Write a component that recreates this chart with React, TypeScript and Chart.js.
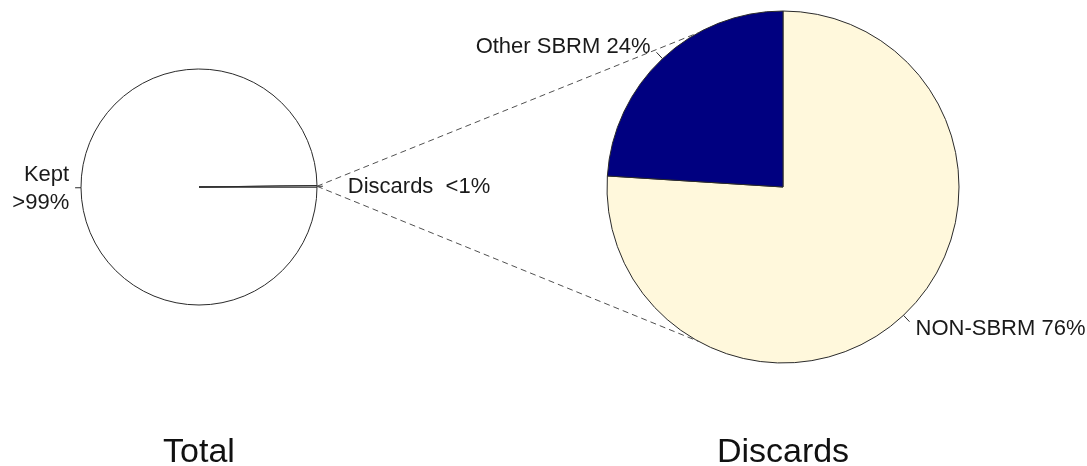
import React, { useEffect, useRef } from 'react';
import { Chart, registerables } from 'chart.js';

Chart.register(...registerables);

// ---- data ----
const totalCategories = ['Kept', 'Discards'];
const totalValues = [99.8, 0.2];
const totalLabelText = ['Kept\n>99%', 'Discards  <1%'];
const totalColors = ['#FFFFFF', '#FFFFFF'];

const discardCategories = ['NON-SBRM', 'Other SBRM'];
const discardValues = [76, 24];
const discardLabelText = ['NON-SBRM 76%', 'Other SBRM 24%'];
const discardColors = ['#FFF8DC', '#000080'];

const chartTitles = ['Total', 'Discards'];

// ---- layout / style ----
const W = 1087;
const H = 466;
const FONT = '"Liberation Sans", Arial, Helvetica, sans-serif';
const LABEL_FONT = `22px ${FONT}`;
const TITLE_FONT = `34px ${FONT}`;
const TEXT_COLOR = '#1a1a1a';
const LINE_COLOR = '#2a2a2a';

const pieLabelPlugin = {
  id: 'pieLabels',
  afterDatasetsDraw(chart: any, _args: any, opts: any) {
    const ctx = chart.ctx;
    const arcs = chart.getDatasetMeta(0).data;
    ctx.save();
    ctx.font = LABEL_FONT;
    ctx.fillStyle = TEXT_COLOR;
    ctx.strokeStyle = LINE_COLOR;
    ctx.lineWidth = 1;
    arcs.forEach((arc: any, i: number) => {
      const { x, y, startAngle, endAngle, outerRadius } = arc.getProps(
        ['x', 'y', 'startAngle', 'endAngle', 'outerRadius'],
        true
      );
      const mid = (startAngle + endAngle) / 2;
      const c = Math.cos(mid);
      const s = Math.sin(mid);
      ctx.beginPath();
      ctx.moveTo(x + outerRadius * c, y + outerRadius * s);
      ctx.lineTo(x + 1.05 * outerRadius * c, y + 1.05 * outerRadius * s);
      ctx.stroke();
      const dx = opts.dx ? opts.dx[i] || 0 : 0;
      const lx = x + 1.1 * outerRadius * c + dx;
      const ly = y + 1.1 * outerRadius * s;
      const lines = String(opts.text[i]).split('\n');
      ctx.textAlign = c < 0 ? 'right' : 'left';
      ctx.textBaseline = 'middle';
      const lh = 28;
      lines.forEach((t: string, k: number) => {
        ctx.fillText(t, lx, ly + 1 + (k - (lines.length - 1) / 2) * lh);
      });
    });
    const cx = arcs[0].x;
    ctx.font = TITLE_FONT;
    ctx.textAlign = 'center';
    ctx.textBaseline = 'alphabetic';
    ctx.fillStyle = '#111111';
    ctx.fillText(opts.title, cx, 462);
    ctx.restore();
  },
};

export default function App() {
  const leftRef = useRef<HTMLCanvasElement>(null);
  const rightRef = useRef<HTMLCanvasElement>(null);

  useEffect(() => {
    if (!leftRef.current || !rightRef.current) return;

    const leftChart = new Chart(leftRef.current, {
      type: 'pie',
      data: {
        labels: totalCategories,
        datasets: [
          {
            data: totalValues,
            backgroundColor: totalColors,
            borderColor: LINE_COLOR,
            borderWidth: 1,
            hoverOffset: 0,
          },
        ],
      },
      options: {
        responsive: false,
        animation: false,
        events: [],
        rotation: 90,
        radius: 118,
        layout: { padding: { left: 0, right: 689, top: 0, bottom: 92 } },
        plugins: {
          legend: { display: false },
          tooltip: { enabled: false },
          pieLabels: { text: totalLabelText, dx: [0, 19], title: chartTitles[0] },
        } as any,
      },
      plugins: [pieLabelPlugin],
    });

    const connectorPlugin = {
      id: 'connectors',
      afterDraw(chart: any) {
        const src = leftChart.getDatasetMeta(0).data[1] as any;
        const sp = src.getProps(['x', 'y', 'startAngle', 'endAngle', 'outerRadius'], true);
        const mid = (sp.startAngle + sp.endAngle) / 2;
        const x0 = sp.x + sp.outerRadius * Math.cos(mid);
        const y0 = sp.y + sp.outerRadius * Math.sin(mid);
        const dst = chart.getDatasetMeta(0).data[0] as any;
        const dp = dst.getProps(['x', 'y', 'outerRadius'], true);
        const angles = [(-118.7 * Math.PI) / 180, (118.7 * Math.PI) / 180];
        const ctx = chart.ctx;
        ctx.save();
        ctx.strokeStyle = '#505050';
        ctx.lineWidth = 1;
        ctx.setLineDash([6, 4]);
        angles.forEach((a) => {
          ctx.beginPath();
          ctx.moveTo(x0, y0);
          ctx.lineTo(dp.x + dp.outerRadius * Math.cos(a), dp.y + dp.outerRadius * Math.sin(a));
          ctx.stroke();
        });
        ctx.restore();
      },
    };

    const rightChart = new Chart(rightRef.current, {
      type: 'pie',
      data: {
        labels: discardCategories,
        datasets: [
          {
            data: discardValues,
            backgroundColor: discardColors,
            borderColor: LINE_COLOR,
            borderWidth: 1,
            hoverOffset: 0,
          },
        ],
      },
      options: {
        responsive: false,
        animation: false,
        events: [],
        rotation: 0,
        radius: 176,
        layout: { padding: { left: 479, right: 0, top: 0, bottom: 92 } },
        plugins: {
          legend: { display: false },
          tooltip: { enabled: false },
          pieLabels: { text: discardLabelText, title: chartTitles[1] },
        } as any,
      },
      plugins: [pieLabelPlugin, connectorPlugin],
    });

    return () => {
      rightChart.destroy();
      leftChart.destroy();
    };
  }, []);

  return (
    <div
      style={{
        position: 'fixed',
        left: 0,
        top: 0,
        width: W,
        height: H,
        background: '#ffffff',
        overflow: 'hidden',
      }}
    >
      <canvas ref={leftRef} width={W} height={H} style={{ position: 'absolute', left: 0, top: 0 }} />
      <canvas ref={rightRef} width={W} height={H} style={{ position: 'absolute', left: 0, top: 0 }} />
    </div>
  );
}
